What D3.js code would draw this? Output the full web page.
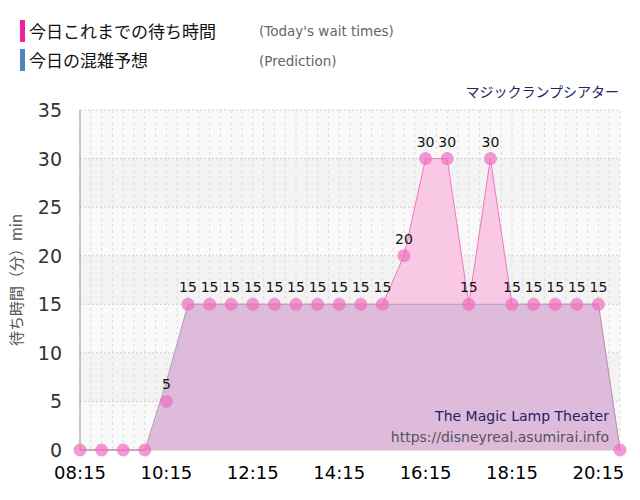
<!DOCTYPE html>
<html><head><meta charset="utf-8">
<script src="https://cdn.jsdelivr.net/npm/d3@7"></script>
<style>body{margin:0;background:#fff;font-family:"DejaVu Sans","Noto Sans CJK JP",sans-serif;}</style>
</head><body><svg id="c" width="640" height="500"></svg>
<script>
const times = ["08:15","08:45","09:15","09:45","10:15","10:45","11:15","11:45","12:15","12:45","13:15","13:45","14:15","14:45","15:15","15:45","16:15","16:45","17:15","17:45","18:15","18:45","19:15","19:45","20:15","20:45"];
const waitTimes = [0,0,0,0,5,15,15,15,15,15,15,15,15,15,15,20,30,30,15,30,15,15,15,15,15,0];
const prediction = [0,0,0,0,7,15,15,15,15,15,15,15,15,15,15,15,15,15,15,15,15,15,15,15,15,0];
const xTickLabels = ["08:15","10:15","12:15","14:15","16:15","18:15","20:15"];
const yTicks = [0,5,10,15,20,25,30,35];

const svg = d3.select("#c");
const JP = '"Noto Sans CJK JP",sans-serif';
const toMin = t => { const [h,m]=t.split(":").map(Number); return h*60+m; };
const x = d3.scaleLinear().domain([toMin("08:15"), toMin("20:45")]).range([80,620]);
const y = d3.scaleLinear().domain([0,35]).range([450,110]);
const L=80,R=620;
for (let i=0;i<7;i++){
  svg.append("rect").attr("x",L).attr("width",R-L).attr("y",y(5*(i+1))).attr("height",y(5*i)-y(5*(i+1)))
    .attr("fill", i%2===0 ? "#f9f9f9" : "#f3f3f3");
}
for (let m=toMin("08:15"); m<=toMin("20:45"); m+=15){
  svg.append("line").attr("x1",x(m)).attr("x2",x(m)).attr("y1",110).attr("y2",450)
    .attr("stroke","#dcdcdc").attr("stroke-dasharray","3,3");
}
yTicks.forEach(v=>{
  svg.append("line").attr("x1",L).attr("x2",R).attr("y1",y(v)).attr("y2",y(v))
    .attr("stroke","#d0d0d0").attr("stroke-dasharray","2,2");
});
svg.append("line").attr("x1",L).attr("x2",L).attr("y1",110).attr("y2",450).attr("stroke","#999");
svg.append("line").attr("x1",L).attr("x2",R).attr("y1",450).attr("y2",450).attr("stroke","#ccc");

const area = d3.area().x((d,i)=>x(toMin(times[i]))).y0(y(0)).y1(d=>y(d));
const line = d3.line().x((d,i)=>x(toMin(times[i]))).y(d=>y(d));
svg.append("path").attr("d",area(waitTimes)).attr("fill","#f8c8e4");
svg.append("path").attr("d",line(waitTimes)).attr("fill","none").attr("stroke","#ee77bb").attr("stroke-width",1);
svg.append("path").attr("d",area(prediction)).attr("fill","#dbb8da").attr("fill-opacity",0.92);
svg.append("path").attr("d",line(prediction)).attr("fill","none").attr("stroke","#b0a0b0").attr("stroke-width",1);

waitTimes.forEach((d,i)=>{
  svg.append("circle").attr("cx",x(toMin(times[i]))).attr("cy",y(d)).attr("r",6.5).attr("fill","rgba(240,110,190,0.7)");
  if(d>0) svg.append("text").attr("x",x(toMin(times[i]))).attr("y",y(d)-12)
  .attr("text-anchor","middle").attr("font-size",14).attr("fill","#111").text(d); });

yTicks.forEach(v=>svg.append("text").attr("x",62).attr("y",y(v)+7).attr("text-anchor","end")
  .attr("font-size",19).attr("fill","#333").text(v));
xTickLabels.forEach(t=>svg.append("text").attr("x",x(toMin(t))).attr("y",479).attr("text-anchor","middle")
  .attr("font-size",18).attr("fill","#000").text(t));
svg.append("text").attr("transform","translate(22,280) rotate(-90)").attr("text-anchor","middle")
  .attr("font-size",15).attr("fill","#555").attr("font-family",JP).text("待ち時間（分）min");

svg.append("rect").attr("x",20).attr("y",20).attr("width",5).attr("height",22).attr("fill","#ee2299");
svg.append("rect").attr("x",20).attr("y",49).attr("width",5).attr("height",22).attr("fill","#4f86b8");
svg.append("text").attr("x",29).attr("y",38).attr("font-size",17).attr("font-family",JP).attr("fill","#111").text("今日これまでの待ち時間");
svg.append("text").attr("x",29).attr("y",67).attr("font-size",17).attr("font-family",JP).attr("fill","#111").text("今日の混雑予想");
svg.append("text").attr("x",259).attr("y",36).attr("font-size",13.5).attr("fill","#666").text("(Today's wait times)");
svg.append("text").attr("x",259).attr("y",66).attr("font-size",13.5).attr("fill","#666").text("(Prediction)");
svg.append("text").attr("x",619).attr("y",97).attr("text-anchor","end").attr("font-size",14).attr("font-family",JP).attr("fill","#222266").text("マジックランプシアター");
svg.append("text").attr("x",609).attr("y",421).attr("text-anchor","end").attr("font-size",14).attr("fill","#222266").text("The Magic Lamp Theater");
svg.append("text").attr("x",609).attr("y",442).attr("text-anchor","end").attr("font-size",14).attr("fill","#555").text("https://disneyreal.asumirai.info");
</script></body></html>
